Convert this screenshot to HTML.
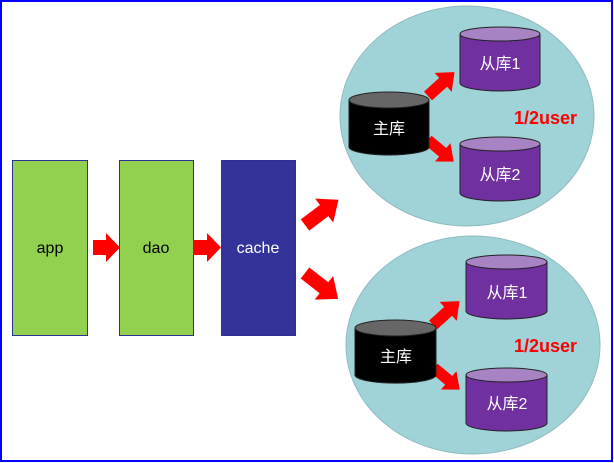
<!DOCTYPE html>
<html><head><meta charset="utf-8"><style>
html,body{margin:0;padding:0;background:#fff}
svg{display:block}
text{font-family:"Liberation Sans","Noto Sans CJK SC",sans-serif}
</style></head><body>
<svg width="614" height="463" viewBox="0 0 614 463" xmlns="http://www.w3.org/2000/svg">
<defs>
<polygon id="arr" points="0,-7 24,-7 24,-15 42,0 24,15 24,7 0,7" fill="#ff0000"/>
</defs>
<rect x="1" y="1" width="611" height="460" fill="#fff" stroke="#0000ff" stroke-width="2"/>
<rect x="12.5" y="160.5" width="75" height="175" fill="#92d050" stroke="#2e3192"/>
<text x="50" y="253" font-size="16" text-anchor="middle" fill="#000">app</text>
<rect x="119.5" y="160.5" width="74" height="175" fill="#92d050" stroke="#2e3192"/>
<text x="156" y="253" font-size="16" text-anchor="middle" fill="#000">dao</text>
<rect x="221.5" y="160.5" width="74" height="175" fill="#333399" stroke="#2e3192"/>
<text x="258" y="253" font-size="16" text-anchor="middle" fill="#fff">cache</text>
<polygon points="93,240 106,240 106,233 120,247.5 106,262 106,255 93,255" fill="#f00"/>
<polygon points="193,240 207,240 207,233 221,247.5 207,262 207,255 193,255" fill="#f00"/>
<use href="#arr" transform="translate(305,225) rotate(-37)"/>
<use href="#arr" transform="translate(305,273) rotate(38)"/>
<ellipse cx="467" cy="116" rx="127" ry="110" fill="#a0d3d8" stroke="#8fbcc0"/>
<use href="#arr" transform="translate(428,96) rotate(-42) scale(0.85)"/>
<use href="#arr" transform="translate(428,140) rotate(40) scale(0.8)"/>
<path d="M349,100 v47 a40,8 0 0 0 80,0 v-47" fill="#000" stroke="#222"/>
<ellipse cx="389" cy="100" rx="40" ry="8" fill="#666" stroke="#222"/>
<text x="389" y="134" font-size="16" text-anchor="middle" fill="#fff">主库</text>
<path d="M460,34 v49 a40,8 0 0 0 80,0 v-49" fill="#7030a0" stroke="#222"/>
<ellipse cx="500" cy="34" rx="40" ry="7" fill="#a883c4" stroke="#222"/>
<text x="500" y="69" font-size="16" text-anchor="middle" fill="#fff">从库1</text>
<path d="M460,144 v49 a40,8 0 0 0 80,0 v-49" fill="#7030a0" stroke="#222"/>
<ellipse cx="500" cy="144" rx="40" ry="7" fill="#a883c4" stroke="#222"/>
<text x="500" y="180" font-size="16" text-anchor="middle" fill="#fff">从库2</text>
<text x="514" y="124" font-size="18" font-weight="bold" fill="#f00">1/2user</text>
<ellipse cx="473" cy="345" rx="127" ry="109" fill="#a0d3d8" stroke="#8fbcc0"/>
<use href="#arr" transform="translate(433,325) rotate(-42) scale(0.85)"/>
<use href="#arr" transform="translate(434,368) rotate(40) scale(0.8)"/>
<path d="M355,328 v47 a40,8 0 0 0 81,0 v-47" fill="#000" stroke="#222"/>
<ellipse cx="395.5" cy="328" rx="40.5" ry="8" fill="#666" stroke="#222"/>
<text x="396" y="362" font-size="16" text-anchor="middle" fill="#fff">主库</text>
<path d="M466,262 v49 a40.5,8 0 0 0 81,0 v-49" fill="#7030a0" stroke="#222"/>
<ellipse cx="506.5" cy="262" rx="40.5" ry="7" fill="#a883c4" stroke="#222"/>
<text x="507" y="298" font-size="16" text-anchor="middle" fill="#fff">从库1</text>
<path d="M466,375 v48 a40.5,8 0 0 0 81,0 v-48" fill="#7030a0" stroke="#222"/>
<ellipse cx="506.5" cy="375" rx="40.5" ry="7" fill="#a883c4" stroke="#222"/>
<text x="507" y="409" font-size="16" text-anchor="middle" fill="#fff">从库2</text>
<text x="514" y="352" font-size="18" font-weight="bold" fill="#f00">1/2user</text>
</svg>
</body></html>
